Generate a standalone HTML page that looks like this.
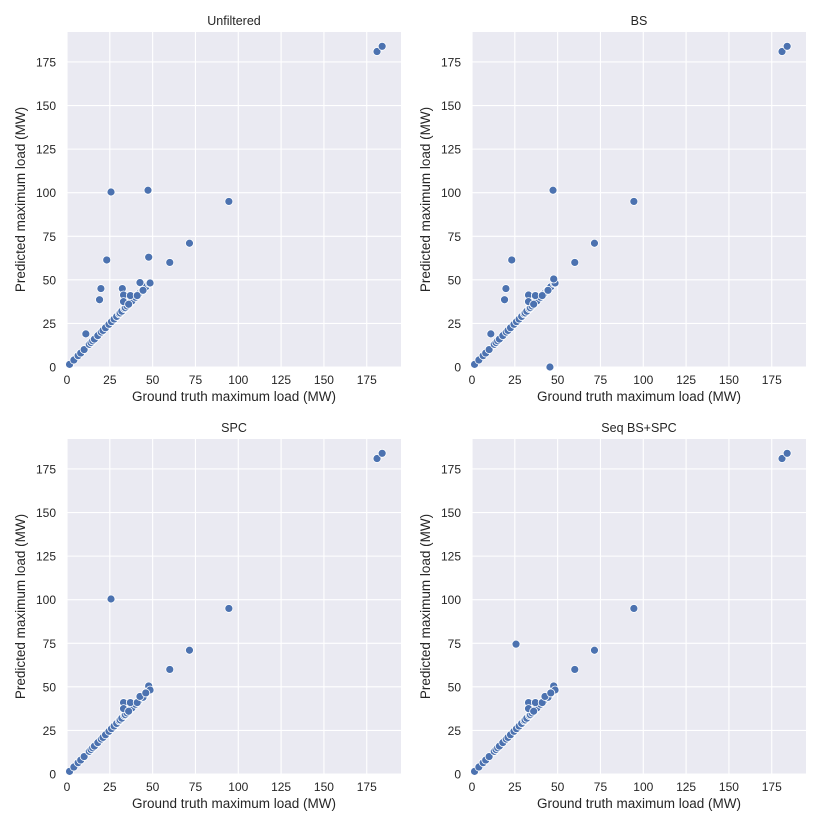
<!DOCTYPE html>
<html><head><meta charset="utf-8"><style>
body{margin:0;background:#fff;}
svg{display:block;font-family:"Liberation Sans",sans-serif;}
</style></head><body>
<svg id="fig" width="830" height="830" xmlns="http://www.w3.org/2000/svg"></svg>
<script>
const xTicks=[0,25,50,75,100,125,150,175];
const yTicks=[0,25,50,75,100,125,150,175];
const panelTitles=["Unfiltered","BS","SPC","Seq BS+SPC"];
const diagX=[1.5,4,6.5,8,10,13,14,15,16,18,20,21,22.5,24.5,26,27.5,29,30.5,31,32,33.5,34,35,36,37,38,40,42,44,46,48];
const unfX=[11,19,19.8,23.2,25.7,47.3,47.7,60,71.5,94.5,181,184,32.3,33,37,41,42.6,44.4,33,36,48.5];
const unfY=[19,38.6,45,61.4,100.4,101.4,63,60,71,95,181,184,45,41.3,41,41,48.4,44,37.5,36,48.2];
const bsX=[11,19,19.8,23.2,47.3,60,71.5,94.5,181,184,33,37,41,44.4,33,36,48.5,47.7,45.5];
const bsY=[19,38.6,45,61.4,101.4,60,71,95,181,184,41.3,41,41,44,37.5,36,48.2,50.5,0];
const spcX=[25.7,60,71.5,94.5,181,184,33,37,41,47.7,48.5,44.4,42.6,33,36,46];
const spcY=[100.4,60,71,95,181,184,41,41,41,50.5,48.2,44,44.5,37.5,36,46.5];
const seqX=[25.7,60,71.5,94.5,181,184,33,37,41,47.7,48.5,44.4,42.6,33,36,46];
const seqY=[74.5,60,71,95,181,184,41,41,41,50.5,48.2,44,44.5,37.5,36,46.5];
const seriesX=[unfX,bsX,spcX,seqX];
const seriesY=[unfY,bsY,spcY,seqY];

const NS="http://www.w3.org/2000/svg";
const svg=document.getElementById('fig');
function mk(tag,attrs,parent){const e=document.createElementNS(NS,tag);for(const k in attrs)e.setAttribute(k,attrs[k]);parent.appendChild(e);return e;}
const W=334,H=335,XMAX=195,YMAX=192.2;
const origins=[[67,32],[472,32],[67,439],[472,439]];
origins.forEach((o,p)=>{
  const [L,T]=o;
  const sx=v=>L+v/XMAX*W, sy=v=>T+H-v/YMAX*H;
  const g=mk('g',{},svg);
  
  
  const bg=mk('rect',{x:L,y:T,width:W,height:H,fill:'#eaeaf2'},g);
  
  
  xTicks.forEach(t=>{
    const x=sx(t);
    const gl=mk('line',{x1:x,x2:x,y1:T,y2:T+H,stroke:'#fff','stroke-width':1.1},g);
    
    
    const tl=mk('text',{x:x,y:T+H+17,'text-anchor':'middle','font-size':12,fill:'#262626'},g);
    tl.textContent=t;
    
    
  });
  yTicks.forEach(t=>{
    const y=sy(t);
    const gl=mk('line',{x1:L,x2:L+W,y1:y,y2:y,stroke:'#fff','stroke-width':1.1},g);
    
    
    const tl=mk('text',{x:L-11,y:y+4.5,'text-anchor':'end','font-size':12,fill:'#262626'},g);
    tl.textContent=t;
    
    
  });
  const tt=mk('text',{x:L+W/2,y:T-7,'text-anchor':'middle','font-size':12.5,fill:'#262626'},g);
  tt.textContent=panelTitles[p];
  
  
  const xl=mk('text',{x:L+W/2,y:T+H+34,'text-anchor':'middle','font-size':13.5,fill:'#262626'},g);
  xl.textContent='Ground truth maximum load (MW)';
  
  
  const yx=L-42, yy=T+H/2;
  const yl=mk('text',{x:yx,y:yy,'text-anchor':'middle','font-size':13.5,fill:'#262626',transform:`rotate(-90 ${yx} ${yy})`},g);
  yl.textContent='Predicted maximum load (MW)';
  
  
  const xs=diagX.concat(seriesX[p]), ys=diagX.concat(seriesY[p]);
  xs.forEach((v,i)=>{
    const c=mk('circle',{cx:sx(v),cy:sy(ys[i]),r:4,fill:'#4c72b0',stroke:'#fff','stroke-width':0.8},g);
    
    
  });
});
</script>
</body></html>
